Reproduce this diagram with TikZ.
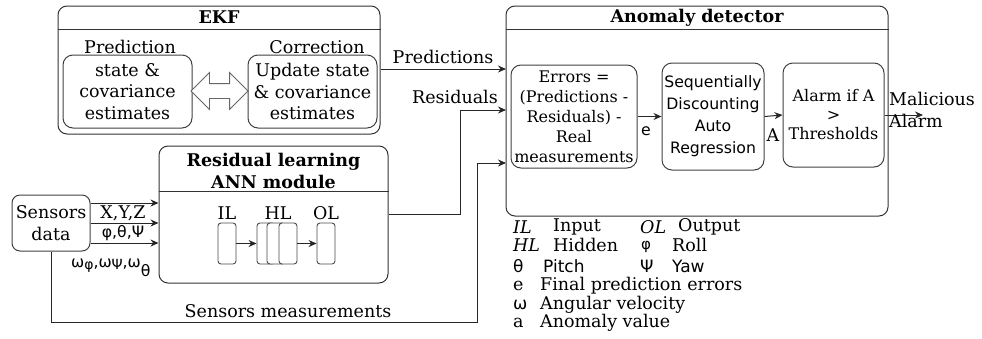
\documentclass[tikz,border=0pt]{standalone}
\usepackage{fontspec}
\setmainfont{DejaVu Serif}
\setsansfont{DejaVu Sans}
\usetikzlibrary{arrows.meta,shapes.arrows}

\tikzset{
  module/.style={draw=black!80, line width=1pt, rounded corners=9pt, inner sep=0pt},
  block/.style={draw=black!75, line width=1pt, rounded corners=10pt, inner sep=0pt,
    align=center, font=\fontsize{17.5}{21.5}\selectfont},
  layer/.style={draw=black!70, fill=white, line width=0.9pt, rounded corners=3pt,
    minimum width=18, minimum height=41, inner sep=0pt},
  arr/.style={-{Stealth[length=8pt,width=7pt]}, line width=1pt, black!85},
  lbl/.style={inner sep=0pt, font=\fontsize{17.5}{21.5}\selectfont},
  slbl/.style={inner sep=0pt, font=\sffamily\fontsize{15.7}{22}\selectfont},
  ttl/.style={inner sep=0pt, align=center, font=\bfseries\fontsize{17.5}{22}\selectfont},
  legend/.style={inner sep=0pt, anchor=west, font=\fontsize{17.5}{21.5}\selectfont},
  slegend/.style={legend, font=\sffamily\fontsize{17}{20}\selectfont},
}

\begin{document}
\begin{tikzpicture}[x=1pt,y=-1pt]
    \useasboundingbox (0,0) rectangle (982,338);

    % EKF
    \node[module, minimum width=322, minimum height=128] (ekf) at (219,70) {};
    \draw[line width=1pt, black!80] ([yshift=-24pt]ekf.north west) -- ([yshift=-24pt]ekf.north east);
    \node[ttl] (ekft) at ([yshift=-12pt]ekf.north) {EKF};
    \node[lbl] (predl) at (130,47) {Prediction};
    \node[lbl] (corrl) at (317,47) {Correction};
    \node[block, minimum width=129, minimum height=73] (pred) at (127.5,91.5) {state \&\\covariance\\estimates};
    \node[block, minimum width=129, minimum height=73] (corr) at (312.5,91.5) {Update state\\\& covariance\\estimates};
    \node[draw=black!60, fill=white, line width=0.9pt, double arrow, double arrow head extend=11pt,
          minimum height=57, inner xsep=0pt, inner ysep=7pt] (swap) at (219.5,91) {};

    % Anomaly detector
    \node[module, minimum width=382, minimum height=210] (anom) at (697,111) {};
    \draw[line width=1pt, black!80] ([yshift=-24pt]anom.north west) -- ([yshift=-24pt]anom.north east);
    \node[ttl] (anomt) at ([yshift=-12pt]anom.north) {Anomaly detector};
    \node[block, minimum width=126, minimum height=103, font=\fontsize{16}{20}\selectfont] (err) at (574,116.5)
        {Errors =\\(Predictions -\\Residuals) -\\Real\\measurements};
    \node[block, minimum width=102, minimum height=107, font=\sffamily\fontsize{15.7}{22}\selectfont] (sdar) at (713,116.5)
        {Sequentially\\Discounting\\Auto\\Regression};
    \node[block, minimum width=101, minimum height=104, font=\fontsize{16}{19}\selectfont] (alarm) at (833.5,115)
        {Alarm if A\\>\\Thresholds};
    \draw[arr] (err.east) -- (sdar.west);
    \node[slbl] (el) at (646,131) {e};
    \draw[arr] (sdar.east) -- (alarm.west);
    \node[lbl] (al) at (773,135) {A};
    \coordinate (alarmout) at (923,115);
    \draw[arr] (alarm.east) -- (alarmout);
    \node[lbl, anchor=west, align=left, font=\fontsize{17.5}{22}\selectfont] (mal) at (889,110) {Malicious\\Alarm};

    % ANN module
    \node[module, minimum width=229, minimum height=137] (ann) at (273.5,214.5) {};
    \draw[line width=1pt, black!80] ([yshift=-46pt]ann.north west) -- ([yshift=-46pt]ann.north east);
    \node[ttl] (annt) at ([yshift=-25pt]ann.north) {Residual learning\\ANN module};
    \node[lbl] (ill) at (227,213) {IL};
    \node[lbl] (hll) at (278,213) {HL};
    \node[lbl] (oll) at (326,213) {OL};
    \node[layer] (il) at (227,243.5) {};
    \node[layer] (hl1) at (266,243.5) {};
    \node[layer] (hl2) at (276,243.5) {};
    \node[layer] (hl3) at (288,243.5) {};
    \node[layer] (ol) at (326,243.5) {};
    \draw[arr] (il.east) -- (hl1.west);
    \draw[arr] (hl3.east) -- (ol.west);

    % sensors
    \node[block, rounded corners=8pt, minimum width=78, minimum height=56] (sens) at (51,223) {Sensors\\data};
    \foreach \dy in {20,0,-20}
        \draw[arr] ([yshift=\dy pt]sens.east) -- ([yshift=\dy pt]sens.east -| ann.west);
    \node[lbl] (xyz) at (123,213) {X,Y,Z};
    \node[slbl] (ang) at (123,233) {φ,θ,Ψ};
    \node[slbl, anchor=west] (omg) at (71,268)
        {ω\raisebox{-2pt}{\fontsize{14}{14}\selectfont φ},ω\raisebox{-2pt}{\fontsize{14}{14}\selectfont Ψ},ω\raisebox{-9pt}{θ}};

    % connections
    \coordinate (predin) at (506,69);
    \draw[arr] (ekf.east |- predin) -- (predin);
    \node[lbl] (predt) at (443,57) {Predictions};
    \coordinate (resin) at (506,110);
    \draw[arr] (ann.east) -| ([xshift=-46pt]resin) -- (resin);
    \node[lbl] (rest) at (455,97) {Residuals};
    \coordinate (measin) at (506,163);
    \coordinate (measturn) at (477,322);
    \draw[arr] (sens.south) |- (measturn) |- (measin);
    \node[lbl] (meast) at (288,311) {Sensors measurements};

    % legend
    \node[legend] (k1) at (513,227) {\textit{IL}};
    \node[legend] (v1) at (553,227) {Input};
    \node[legend] (k2) at (640,227) {\textit{OL}};
    \node[legend] (v2) at (678,227) {Output};
    \node[legend] (k3) at (513,245) {\textit{HL}};
    \node[legend] (v3) at (553,245) {Hidden};
    \node[slegend, font=\sffamily\fontsize{15}{18}\selectfont] (k4) at (641,247) {φ};
    \node[legend] (v4) at (672,245) {Roll};
    \node[slegend] (k5) at (513,266) {θ};
    \node[slegend] (v5) at (543,266) {Pitch};
    \node[slegend] (k6) at (640,266) {Ψ};
    \node[slegend] (v6) at (672,266) {Yaw};
    \node[legend] (k7) at (513,286) {e};
    \node[legend] (v7) at (540,286) {Final prediction errors};
    \node[slegend] (k8) at (513,305) {ω};
    \node[legend] (v8) at (540,305) {Angular velocity};
    \node[legend] (k9) at (513,323) {a};
    \node[legend] (v9) at (540,323) {Anomaly value};
\end{tikzpicture}
\end{document}
